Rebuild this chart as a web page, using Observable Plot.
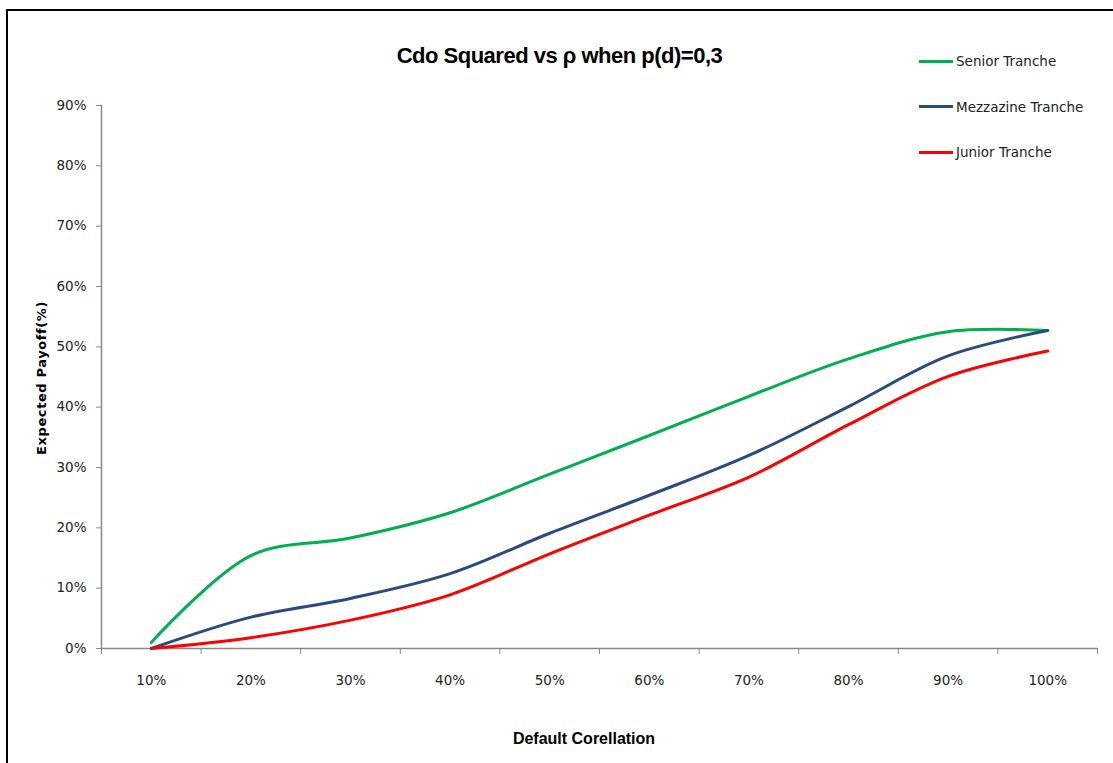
<!DOCTYPE html>
<html><head><meta charset="utf-8">
<script src="https://cdn.jsdelivr.net/npm/d3@7"></script>
<script src="https://cdn.jsdelivr.net/npm/@observablehq/plot@0.6"></script>
<style>
body{margin:0;background:#fff}
#wrap{position:relative;width:1113px;height:763px;overflow:hidden;background:#fff}
#chart{position:absolute;left:0;top:0}
#frame{position:absolute;left:6px;top:9px;width:1200px;height:900px;border:2.5px solid #000;box-sizing:border-box;pointer-events:none}
#title{position:absolute;left:0;width:1113px;top:43px;text-align:center;font:bold 22px "Liberation Sans Narrow","Liberation Sans",sans-serif;letter-spacing:-0.5px;color:#000;padding-left:3px}
#legend{position:absolute;left:919px;top:50px;font:13.5px "DejaVu Sans",sans-serif;color:#222}
.row{position:absolute;left:0;white-space:nowrap;height:22px;display:flex;align-items:center}
.row span.sw{display:inline-block;width:34px;height:3px;margin-right:3px}
#xtitle{position:absolute;left:0;width:1168px;top:730px;text-align:center;font:bold 16px "Liberation Sans Narrow","Liberation Sans",sans-serif;color:#000}
#ytitle{position:absolute;left:41px;top:378px;transform:translate(-50%,-50%) rotate(-90deg);white-space:nowrap;font:bold 13px "DejaVu Sans",sans-serif;letter-spacing:0.6px;color:#000}
</style></head><body>
<div id="wrap">
<div id="chart"></div>
<div id="frame"></div>
<div id="title">Cdo Squared vs ρ when p(d)=0,3</div>
<div id="legend"></div>
<div id="xtitle">Default Corellation</div>
<div id="ytitle">Expected Payoff(%)</div>
</div>
<script>
// Data (percent)
const correlation = [10, 20, 30, 40, 50, 60, 70, 80, 90, 100];
const senior    = [1.0, 15.4, 18.3, 22.5, 28.9, 35.3, 41.8, 48.0, 52.5, 52.7];
const mezzanine = [0.0, 5.2, 8.3, 12.4, 19.1, 25.4, 32.0, 40.1, 48.5, 52.7];
const junior    = [0.0, 1.8, 4.7, 8.9, 15.7, 22.1, 28.4, 37.1, 45.1, 49.3];
const seriesNames = ["Senior Tranche", "Mezzazine Tranche", "Junior Tranche"];
const seriesColors = ["#00B050", "#2A4B7C", "#FF0000"];
const yTicks = [0, 10, 20, 30, 40, 50, 60, 70, 80, 90];
const xBoundaries = [5, 15, 25, 35, 45, 55, 65, 75, 85, 95, 105];

const seriesValues = [senior, mezzanine, junior];
const rows = [];
seriesNames.forEach((name, s) => {
  correlation.forEach((c, i) => rows.push({series: name, corr: c, value: seriesValues[s][i]}));
});

const axisColor = "#888888";
const textColor = "#222222";
const tickFont = '"DejaVu Sans",sans-serif';

const chart = Plot.plot({
  width: 1113,
  height: 763,
  marginLeft: 101,
  marginRight: 16,
  marginTop: 105,
  marginBottom: 115,
  style: {background: "transparent", fontFamily: tickFont, fontSize: "13.5px", color: textColor},
  x: {domain: [5, 105], label: null},
  y: {domain: [0, 90], label: null},
  color: {domain: seriesNames, range: seriesColors},
  marks: [
    Plot.ruleX([5], {stroke: axisColor, strokeWidth: 1.5}),
    Plot.ruleY([0], {stroke: axisColor, strokeWidth: 1.5}),
    Plot.axisY({ticks: yTicks, tickFormat: d => d + "%", tickSize: 5, tickPadding: 10, label: null, stroke: axisColor, fill: textColor, fontSize: 13.5}),
    Plot.axisX({ticks: xBoundaries, tickFormat: () => "", tickSize: 6, label: null, stroke: axisColor}),
    Plot.axisX({ticks: correlation, tickFormat: d => d + "%", tickSize: 0, tickPadding: 27, label: null, fill: textColor, fontSize: 13.5}),
    Plot.line(rows, {x: "corr", y: "value", z: "series", stroke: "series", strokeWidth: 3, curve: "catmull-rom"})
  ]
});
document.getElementById("chart").appendChild(chart);

const legend = document.getElementById("legend");
seriesNames.forEach((name, i) => {
  const row = document.createElement("div");
  row.className = "row";
  row.style.top = (i * 45.5) + "px";
  const sw = document.createElement("span");
  sw.className = "sw";
  sw.style.background = seriesColors[i];
  row.appendChild(sw);
  const t = document.createElement("span");
  t.textContent = name;
  row.appendChild(t);
  legend.appendChild(row);
});
</script>
</body></html>
